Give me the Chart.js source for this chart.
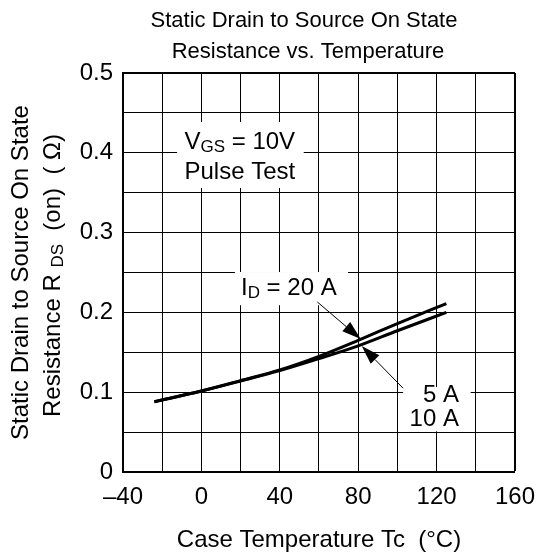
<!DOCTYPE html>
<html>
<head>
<meta charset="utf-8">
<script src="https://cdn.jsdelivr.net/npm/chart.js@4.4.1/dist/chart.umd.min.js"></script>
<style>
  html, body { margin: 0; padding: 0; background: #fff; }
  #wrap { width: 546px; height: 559px; }
</style>
</head>
<body>
<div id="wrap"><canvas id="c" width="546" height="559"></canvas></div>
<script>
// ---- data ----
const temps = [-24, 0, 20, 40, 60, 80, 100, 125];
const rds20A = [0.088, 0.1015, 0.1145, 0.128, 0.145, 0.165, 0.186, 0.211];
const rds5A10A = [0.088, 0.1015, 0.114, 0.127, 0.142, 0.158, 0.177, 0.200];
const xTickValues = [-40, 0, 40, 80, 120, 160];
const xTickLabels = ['\u201340', '0', '40', '80', '120', '160'];
const yTickValues = [0, 0.1, 0.2, 0.3, 0.4, 0.5];
const yTickLabels = ['0', '0.1', '0.2', '0.3', '0.4', '0.5'];
const titleLines = ['Static Drain to Source On State', 'Resistance vs. Temperature'];
const xTitle = 'Case Temperature Tc  (\u00B0C)';

const FONT = '"Liberation Sans", Arial, Helvetica, sans-serif';

// annotation text blocks (data units)
const boxes = [
  { x0: -12.4, x1: 52.2, y0: 0.356, y1: 0.4386 },
  { x0: 17.1, x1: 74.8, y0: 0.209, y1: 0.2506 },
  { x0: 102.9, x1: 137.4, y0: 0.051, y1: 0.1065 }
];
const arrows = [
  { from: [59.2, 0.213], to: [81.3, 0.1667] },
  { from: [102.9, 0.105], to: [81.8, 0.158] }
];

function drawRich(ctx, parts, x, y, align, size) {
  const subSize = Math.round(size * 0.72);
  let total = 0;
  const widths = parts.map(p => {
    ctx.font = (p.sub ? subSize : size) + 'px ' + FONT;
    const w = ctx.measureText(p.t).width;
    total += w;
    return w;
  });
  let cx = align === 'center' ? x - total / 2 : (align === 'right' ? x - total : x);
  ctx.textAlign = 'left';
  ctx.textBaseline = 'middle';
  parts.forEach((p, i) => {
    ctx.font = (p.sub ? subSize : size) + 'px ' + FONT;
    ctx.fillText(p.t, cx, p.sub ? y + size * 0.22 : y);
    cx += widths[i];
  });
}

const annot = {
  id: 'annot',
  beforeDatasetsDraw(chart) {
    const { ctx, scales: { x, y } } = chart;
    ctx.save();
    ctx.fillStyle = '#fff';
    boxes.forEach(b => {
      const px0 = x.getPixelForValue(b.x0), px1 = x.getPixelForValue(b.x1);
      const py0 = y.getPixelForValue(b.y0), py1 = y.getPixelForValue(b.y1);
      ctx.fillRect(Math.min(px0, px1), Math.min(py0, py1), Math.abs(px1 - px0), Math.abs(py1 - py0));
    });
    ctx.restore();
  },
  afterDatasetsDraw(chart) {
    const { ctx, scales: { x, y } } = chart;
    ctx.save();
    ctx.fillStyle = '#000';
    ctx.strokeStyle = '#000';
    arrows.forEach(a => {
      const x0 = x.getPixelForValue(a.from[0]), y0 = y.getPixelForValue(a.from[1]);
      const x1 = x.getPixelForValue(a.to[0]), y1 = y.getPixelForValue(a.to[1]);
      const ang = Math.atan2(y1 - y0, x1 - x0);
      const L = 19, W = 6;
      const bx = x1 - L * Math.cos(ang), by = y1 - L * Math.sin(ang);
      ctx.lineWidth = 1;
      ctx.beginPath(); ctx.moveTo(x0, y0); ctx.lineTo(bx, by); ctx.stroke();
      ctx.beginPath();
      ctx.moveTo(x1, y1);
      ctx.lineTo(bx + W * Math.sin(ang), by - W * Math.cos(ang));
      ctx.lineTo(bx - W * Math.sin(ang), by + W * Math.cos(ang));
      ctx.closePath(); ctx.fill();
    });
    const S = 24;
    drawRich(ctx, [{ t: 'V' }, { t: 'GS', sub: true }, { t: ' = 10V' }], x.getPixelForValue(19.6), y.getPixelForValue(0.4135), 'center', S);
    drawRich(ctx, [{ t: 'Pulse Test' }], x.getPixelForValue(19.6), y.getPixelForValue(0.376), 'center', S);
    drawRich(ctx, [{ t: 'I' }, { t: 'D', sub: true }, { t: ' = 20 A' }], x.getPixelForValue(20.2), y.getPixelForValue(0.2306), 'left', S);
    drawRich(ctx, [{ t: '5 A' }], x.getPixelForValue(131.4), y.getPixelForValue(0.0965), 'right', S);
    drawRich(ctx, [{ t: '10 A' }], x.getPixelForValue(131.4), y.getPixelForValue(0.0664), 'right', S);
    ctx.restore();
  },
  afterDraw(chart) {
    const { ctx, chartArea } = chart;
    ctx.save();
    ctx.fillStyle = '#000';
    drawRich(ctx, [{ t: titleLines[0] }], 304, 21, 'center', 22);
    drawRich(ctx, [{ t: titleLines[1] }], 308, 52, 'center', 22);
    ctx.restore();
    const cy = (chartArea.top + chartArea.bottom) / 2;
    ctx.save();
    ctx.fillStyle = '#000';
    ctx.translate(21, cy);
    ctx.rotate(-Math.PI / 2);
    drawRich(ctx, [{ t: 'Static Drain to Source On State' }], 0, 0, 'center', 24);
    ctx.restore();
    ctx.save();
    ctx.fillStyle = '#000';
    ctx.translate(53, cy + 3);
    ctx.rotate(-Math.PI / 2);
    drawRich(ctx, [{ t: 'Resistance R ' }, { t: 'DS', sub: true }, { t: '  (on)  ( \u03A9)' }], 0, 0, 'center', 24);
    ctx.restore();
  }
};

function near(a, b) { return Math.abs(a - b) < 1e-6; }

new Chart(document.getElementById('c'), {
  type: 'line',
  data: {
    datasets: [
      { label: 'ID = 20 A', data: temps.map((t, i) => ({ x: t, y: rds20A[i] })) },
      { label: 'ID = 5 A, 10 A', data: temps.map((t, i) => ({ x: t, y: rds5A10A[i] })) }
    ]
  },
  options: {
    responsive: false,
    animation: false,
    devicePixelRatio: 1,
    layout: { padding: { top: 73, left: 0, right: 24, bottom: 0 } },
    elements: {
      line: { borderColor: '#000', borderWidth: 3, cubicInterpolationMode: 'monotone', fill: false },
      point: { radius: 0 }
    },
    plugins: {
      legend: { display: false },
      tooltip: { enabled: false },
      title: { display: false }
    },
    scales: {
      x: {
        type: 'linear',
        min: -40, max: 160,
        afterFit(s) { s.height = 87; },
        ticks: {
          stepSize: 20, autoSkip: false, maxRotation: 0, padding: 11,
          color: '#000', font: { family: FONT, size: 24 },
          callback(v) { const i = xTickValues.findIndex(t => near(t, v)); return i >= 0 ? xTickLabels[i] : ''; }
        },
        grid: {
          drawTicks: false, color: '#000',
          lineWidth: c => (c.tick && near(c.tick.value, 160)) ? 2 : 1
        },
        border: { display: true, color: '#000', width: 2 },
        title: {
          display: true, text: xTitle, color: '#000',
          font: { family: FONT, size: 24 }, padding: { top: 0, bottom: 4 }
        }
      },
      y: {
        type: 'linear',
        min: 0, max: 0.5,
        afterFit(s) { s.width = 123; },
        ticks: {
          stepSize: 0.05, autoSkip: false, padding: 10,
          color: '#000', font: { family: FONT, size: 24 },
          callback(v) { const i = yTickValues.findIndex(t => near(t, v)); return i >= 0 ? yTickLabels[i] : ''; }
        },
        grid: {
          drawTicks: false, color: '#000',
          lineWidth: c => (c.tick && near(c.tick.value, 0.5)) ? 2 : 1
        },
        border: { display: true, color: '#000', width: 2 }
      }
    }
  },
  plugins: [annot]
});
</script>
</body>
</html>
